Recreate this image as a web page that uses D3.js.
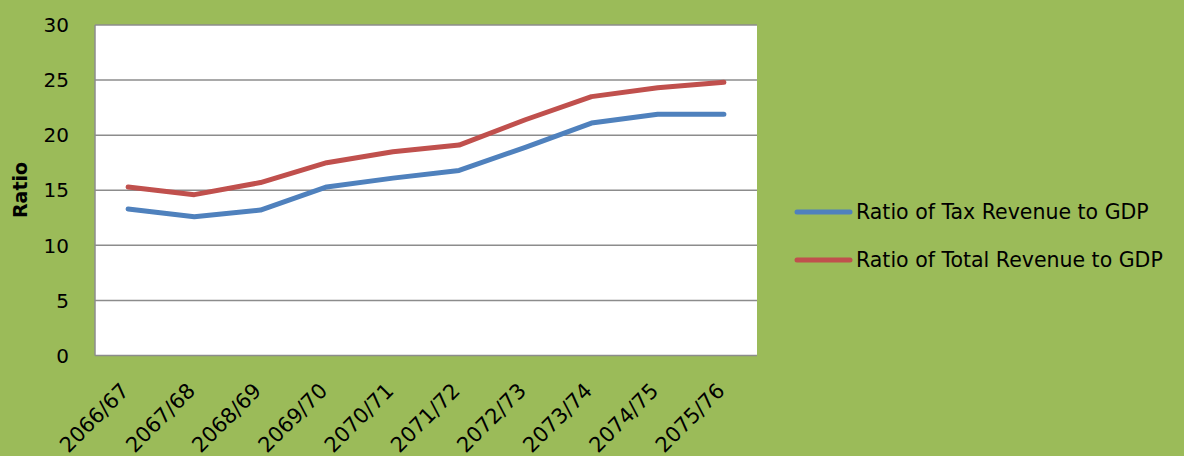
<!DOCTYPE html>
<html><head><meta charset="utf-8">
<script src="https://cdn.jsdelivr.net/npm/d3@7"></script>
<style>html,body{margin:0;padding:0;background:#9BBB59;}</style>
</head><body><svg id="c" width="1184" height="456"></svg>
<script>
const categories = ["2066/67","2067/68","2068/69","2069/70","2070/71","2071/72","2072/73","2073/74","2074/75","2075/76"];
const taxRatio = [13.3,12.6,13.2,15.3,16.1,16.8,18.9,21.1,21.9,21.9];
const totalRatio = [15.3,14.6,15.7,17.5,18.5,19.1,21.4,23.5,24.3,24.8];
const yTicks = [0,5,10,15,20,25,30];
const seriesNames = ["Ratio of Tax Revenue to GDP","Ratio of Total Revenue to GDP"];
const colors = ["#4F81BD","#C0504D"];

const svg = d3.select("#c");
const font = "'DejaVu Sans', sans-serif";
svg.append("rect").attr("width",1184).attr("height",456).attr("fill","#9BBB59");
const L=95,R=757,T=25,B=355.5;
const x = d3.scalePoint().domain(categories).range([L,R]).padding(0.5);
const y = d3.scaleLinear().domain([0,30]).range([B,T]);
svg.append("rect").attr("x",L).attr("y",T).attr("width",R-L).attr("height",B-T).attr("fill","#fff");
// gridlines
svg.append("g").selectAll("line").data(yTicks).join("line")
  .attr("x1",L).attr("x2",R).attr("y1",d=>y(d)).attr("y2",d=>y(d))
  .attr("stroke","#8C8C8C").attr("stroke-width",1.5);
svg.append("line").attr("x1",L).attr("x2",L).attr("y1",T).attr("y2",B).attr("stroke","#8C8C8C").attr("stroke-width",1.5);
// y tick labels
svg.append("g").selectAll("text").data(yTicks).join("text")
  .attr("x",69).attr("y",d=>y(d)).attr("dy","0.36em").attr("text-anchor","end")
  .attr("font-family",font).attr("font-size",20).attr("fill","#000").text(d=>d);
// x labels
svg.append("g").selectAll("text").data(categories).join("text")
  .attr("transform",d=>`translate(${x(d)-3.3},${386.7}) rotate(-45)`)
  .attr("text-anchor","end").attr("dy","0.36em")
  .attr("font-family",font).attr("font-size",21).attr("fill","#000").text(d=>d);
// y title
svg.append("text").attr("transform","translate(20,190) rotate(-90)").attr("text-anchor","middle")
  .attr("dy","0.36em").attr("font-family",font).attr("font-size",19).attr("font-weight","bold").text("Ratio");
// lines
const line = d3.line().x((d,i)=>x(categories[i])).y(d=>y(d));
[taxRatio,totalRatio].forEach((s,i)=>{
  svg.append("path").attr("d",line(s)).attr("fill","none").attr("stroke",colors[i])
    .attr("stroke-width",5).attr("stroke-linecap","round").attr("stroke-linejoin","round");
});
// legend
const lg = svg.append("g");
seriesNames.forEach((n,i)=>{
  const ly = 212 + i*48;
  lg.append("line").attr("x1",797).attr("x2",850).attr("y1",ly).attr("y2",ly)
    .attr("stroke",colors[i]).attr("stroke-width",5).attr("stroke-linecap","round");
  lg.append("text").attr("x",856).attr("y",ly).attr("dy","0.36em")
    .attr("font-family",font).attr("font-size",20.5).attr("fill","#000").text(n);
});
</script></body></html>
